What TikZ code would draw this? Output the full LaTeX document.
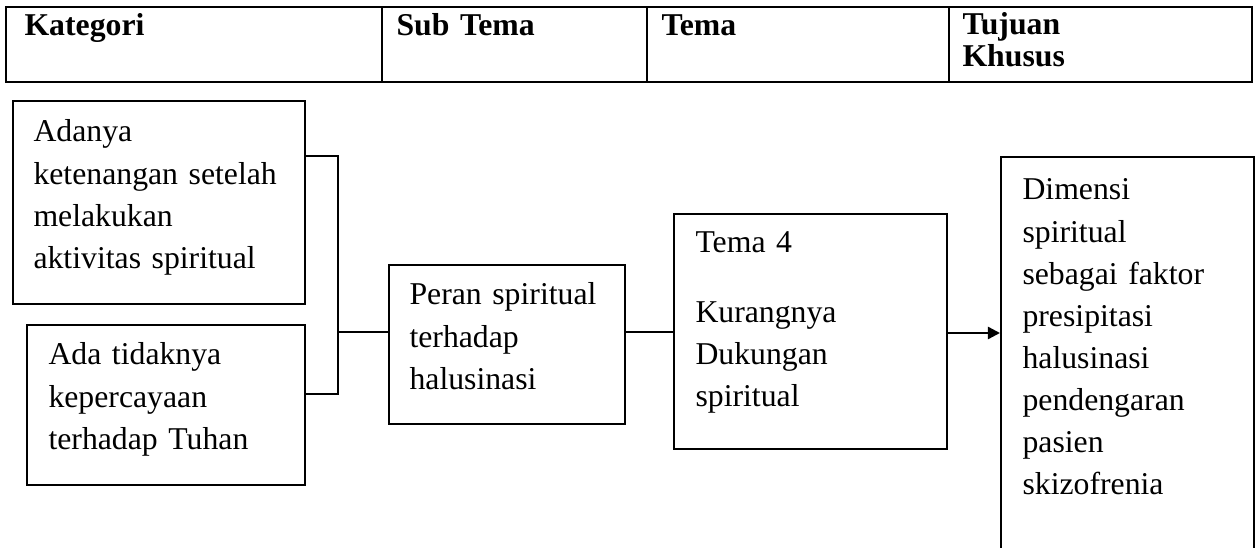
\documentclass[tikz,border=0pt]{standalone}
\usepackage{fontspec}
\setmainfont{Liberation Serif}
\usepackage{tikz}
\usetikzlibrary{arrows.meta}

\begin{document}
\begin{tikzpicture}[x=0.378pt,y=-0.378pt,
    tbox/.style={draw, line width=0.8pt, anchor=north west, inner sep=0pt},
    txt/.style={anchor=base west, inner sep=0pt, text width=100pt, align=left,
      font=\fontsize{12pt}{15.9pt}\selectfont},
    hdr/.style={anchor=base west, inner sep=0pt, text width=100pt, align=left,
      font=\fontsize{12pt}{10.6pt}\selectfont\bfseries},
    conn/.style={line width=0.5pt}]
  \useasboundingbox (0,0) rectangle (1259,548);
  \clip (0,0) rectangle (1259,548);
  % header table
  \draw[line width=1pt] (6,7) rectangle (1252,82);
  \foreach \x in {382,647,949} {
    \draw[line width=1pt] (\x,7) -- (\x,82);
  }
  \node[hdr] (hkat) at (24,36) {Kategori};
  \node[hdr] (hsub) at (396,36) {Sub Tema};
  \node[hdr] (htema) at (661,36) {Tema};
  \node[hdr] (htuj) at (962,35) {Tujuan\\Khusus};
  % boxes
  \node[tbox, minimum width=110.4pt, minimum height=76.7pt] (kat1) at (12,100) {};
  \node[tbox, minimum width=105.1pt, minimum height=60.5pt] (kat2) at (26,324) {};
  \node[tbox, minimum width=89.2pt, minimum height=60.1pt] (sub) at (388,264) {};
  \node[tbox, minimum width=103.2pt, minimum height=88.8pt] (tema) at (673,213) {};
  \node[tbox, minimum width=95.6pt, minimum height=160pt] (tuj) at (1000,156) {};
  \node[txt] (kat1t) at (33,142) {Adanya\\ketenangan setelah\\melakukan\\aktivitas spiritual};
  \node[txt] (kat2t) at (48,365) {Ada tidaknya\\kepercayaan\\terhadap Tuhan};
  \node[txt] (subt) at (409,305) {Peran spiritual\\terhadap\\halusinasi};
  \node[txt] (temat) at (695,253) {Tema 4\\[10.2pt]Kurangnya\\Dukungan\\spiritual};
  \node[txt] (tujt) at (1022,200) {Dimensi\\spiritual\\sebagai faktor\\presipitasi\\halusinasi\\pendengaran\\pasien\\skizofrenia};
  % connectors
  \coordinate (jtop) at (338,156);
  \coordinate (jbot) at (338,394);
  \coordinate (jmid) at (338,332);
  \coordinate (jarr) at (960,333);
  \draw[conn] (kat1.east |- jtop) -- (jtop) -- (jbot) -- (kat2.east |- jbot);
  \draw[conn] (jmid) -- (sub.west |- jmid);
  \draw[conn] (sub.east |- jmid) -- (tema.west |- jmid);
  \draw[line width=0.9pt, -{Triangle[length=4.6pt, width=4.6pt]}] (tema.east |- jarr) -- (tuj.west |- jarr);
\end{tikzpicture}
\end{document}
